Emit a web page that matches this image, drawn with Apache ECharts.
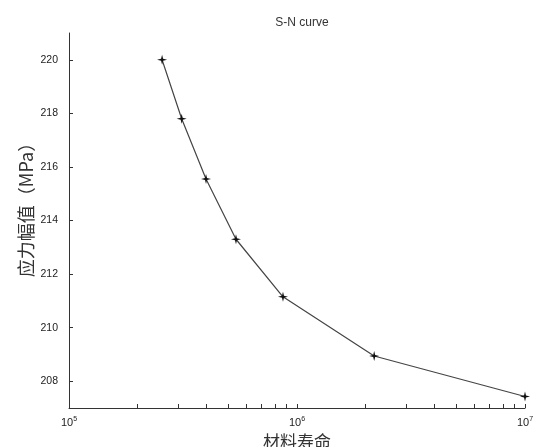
<!DOCTYPE html>
<html>
<head>
<meta charset="utf-8">
<title>S-N curve</title>
<script src="https://cdn.jsdelivr.net/npm/echarts@6/dist/echarts.min.js"></script>
<style>
	html, body { margin: 0; padding: 0; background: #fff; }
	#chart { width: 542px; height: 447px; }
</style>
</head>
<body>
<div id="chart"></div>
<script>
// 材料寿命（循环次数）与应力幅值
var life = [2.56e5, 3.12e5, 3.99e5, 5.4e5, 8.68e5, 2.18e6, 1e7];
var stress = [220.0, 217.8, 215.55, 213.3, 211.15, 208.94, 207.43];
var yTicks = [208, 210, 212, 214, 216, 218, 220];
var xTicks = [1e5, 2e5, 3e5, 4e5, 5e5, 6e5, 7e5, 8e5, 9e5,
	1e6, 2e6, 3e6, 4e6, 5e6, 6e6, 7e6, 8e6, 9e6, 1e7];
var xLabels = [1e5, 1e6, 1e7];

var chart = echarts.init(document.getElementById('chart'));
var points = [];
for (var i = 0; i < life.length; i++) {
	points.push([life[i], stress[i]]);
}
var lineColor = '#333';
var font = 'Liberation Sans, Arial, sans-serif';

var option = {
	animation: false,
	title: {
		text: 'S-N curve',
		left: 297,
		top: 12,
		textAlign: 'center',
		textStyle: { fontSize: 12, fontWeight: 'normal', color: '#333', fontFamily: font }
	},
	grid: { left: 69, right: 17, top: 33, bottom: 39, outerBoundsMode: 'none' },
	xAxis: {
		type: 'log',
		logBase: 10,
		min: 1e5,
		max: 1e7,
		name: '材料寿命',
		nameLocation: 'middle',
		nameGap: 23,
		nameTextStyle: { fontSize: 17, color: '#333', fontFamily: 'Noto Sans CJK SC' },
		axisLine: { lineStyle: { color: lineColor, width: 1 } },
		axisTick: { inside: true, length: 4, customValues: xTicks, lineStyle: { color: lineColor } },
		axisLabel: {
			customValues: xLabels,
			margin: 8,
			color: '#222',
			fontFamily: font,
			formatter: function (v) {
				return '10{sup|' + Math.round(Math.log(v) / Math.LN10) + '}';
			},
			rich: {
				sup: { fontSize: 7, verticalAlign: 'top', padding: [0, 0, 6, 0], color: '#222' }
			},
			fontSize: 11
		},
		splitLine: { show: false }
	},
	yAxis: {
		type: 'value',
		min: 207,
		max: 221,
		name: '应力幅值（MPa）',
		nameLocation: 'middle',
		nameGap: 34,
		nameMoveOverlap: false,
		nameTextStyle: { fontSize: 18, color: '#333', fontFamily: 'Noto Sans CJK SC', padding: [0, 0, 0, 30] },
		axisLine: { show: true, lineStyle: { color: lineColor, width: 1 } },
		axisTick: { show: true, inside: true, length: 4, customValues: yTicks, lineStyle: { color: lineColor } },
		axisLabel: { customValues: yTicks, margin: 11, color: '#222', fontSize: 10.5, fontFamily: font },
		splitLine: { show: false }
	},
	series: [{
		type: 'line',
		data: points,
		symbol: 'path://M5,0 L6,4 L10,5 L6,6 L5,10 L4,6 L0,5 L4,4 Z',
		symbolSize: 10,
		itemStyle: { color: '#111' },
		lineStyle: { color: '#444', width: 1.2 }
	}]
};
chart.setOption(option);
</script>
</body>
</html>
